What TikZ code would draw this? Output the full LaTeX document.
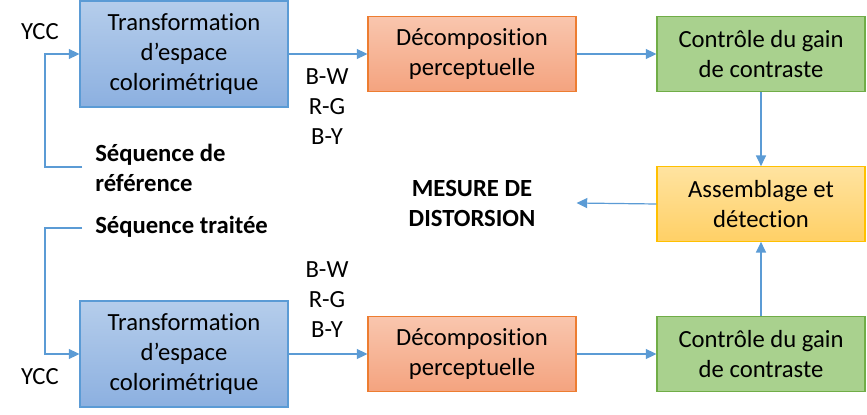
\documentclass[tikz,border=0pt]{standalone}
\usepackage{fontspec}
\setmainfont{Carlito}[Ligatures=NoCommon]
\usepackage{xcolor}
\usepackage{tikz}
\usetikzlibrary{arrows.meta, positioning}

\definecolor{lineblue}{HTML}{5B9BD5}
\definecolor{blueTop}{HTML}{B5CDEB}
\definecolor{blueBot}{HTML}{8CB0E0}
\definecolor{blueEdge}{HTML}{5B9BD5}
\definecolor{salTop}{HTML}{F9C6AE}
\definecolor{salBot}{HTML}{F4A37F}
\definecolor{salEdge}{HTML}{ED7D31}
\definecolor{grnFill}{HTML}{A9D18E}
\definecolor{grnEdge}{HTML}{70AD47}
\definecolor{ylwTop}{HTML}{FFE3A0}
\definecolor{ylwBot}{HTML}{FFD066}
\definecolor{ylwEdge}{HTML}{FFC000}

\begin{document}
\begin{tikzpicture}[
            x=0.75pt, y=-0.75pt,
            font=\fontsize{18.5}{22.5}\selectfont,
            box/.style={draw, line width=0.8pt, align=center, inner sep=0pt,
                        minimum width=156pt, minimum height=56pt},
            colorbox/.style={box, draw=blueEdge, top color=blueTop, bottom color=blueBot,
                             minimum height=79.5pt},
            percbox/.style={box, draw=salEdge, top color=salTop, bottom color=salBot},
            gainbox/.style={box, draw=grnEdge, fill=grnFill},
            detbox/.style={box, draw=ylwEdge, top color=ylwTop, bottom color=ylwBot},
            conn/.style={draw=lineblue, line width=0.9pt},
            arr/.style={conn, -{Triangle[length=8pt, width=7.5pt]}},
            label/.style={align=center, inner sep=0pt},
            seq/.style={font=\fontsize{18.5}{22.5}\selectfont\bfseries, align=left, inner sep=0pt, anchor=west}
        ]
        \useasboundingbox (0,0) rectangle (867,414);

        % Boxes (reference branch on top, processed branch below)
        \node[colorbox] (trefT) at (184,54) {Transformation\\d’espace\\colorimétrique};
        \node[percbox] (decT) at (472,54) {Décomposition\\perceptuelle};
        \node[gainbox] (gainT) at (761,54) {Contrôle du gain\\de contraste};

        \node[detbox] (det) at (761,204) {Assemblage et\\détection};

        \node[colorbox] (trefB) at (184,354) {Transformation\\d’espace\\colorimétrique};
        \node[percbox] (decB) at (472,354) {Décomposition\\perceptuelle};
        \node[gainbox] (gainB) at (761,354) {Contrôle du gain\\de contraste};

        % Labels
        \node[label] (yccT) at (40,32) {YCC};
        \node[label] (yccB) at (40,377) {YCC};
        \node[label] (chanT) at (327,107) {B-W\\R-G\\B-Y};
        \node[label] (chanB) at (327,300) {B-W\\R-G\\B-Y};
        \node[seq] (seqref) at (95,168) {Séquence de\\référence};
        \node[seq] (seqtr) at (95,227) {Séquence traitée};
        \node[label, font=\fontsize{18.5}{22.5}\selectfont\bfseries] (mesure) at (472,203) {MESURE DE\\DISTORSION};

        % Input feeds
        \coordinate (inT) at (82,167);
        \coordinate (turnT) at (45,167);
        \coordinate (inB) at (82,228);
        \coordinate (turnB) at (45,228);
        \draw[arr] (inT) -- (turnT) |- (trefT.west);
        \draw[arr] (inB) -- (turnB) |- (trefB.west);

        % Flow
        \draw[arr] (trefT) -- (decT);
        \draw[arr] (decT) -- (gainT);
        \draw[arr] (trefB) -- (decB);
        \draw[arr] (decB) -- (gainB);
        \draw[arr] (gainT) -- (det);
        \draw[arr] (gainB) -- (det);
        \draw[arr] (det.west) -- (mesure.east -| decT.east);

    \end{tikzpicture}
\end{document}
